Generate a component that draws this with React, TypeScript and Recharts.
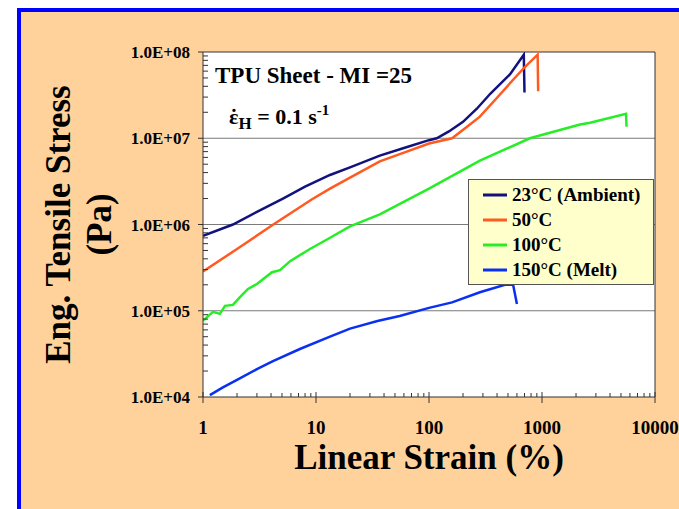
import React from 'react';
import { LineChart, Line, XAxis, YAxis, ReferenceLine, Legend } from 'recharts';

// Axis decades (log scales)
const strainTicks = [1, 10, 100, 1000, 10000];
const stressTicks = [1e4, 1e5, 1e6, 1e7, 1e8];
const minorSteps = [2, 3, 4, 5, 6, 7, 8, 9];
const gridStress = [1e5, 1e6, 1e7];

// Series
const seriesNames = ['23°C (Ambient)', '50°C', '100°C', '150°C (Melt)'];
const seriesColors = ['#12127E', '#FF5A1F', '#26EE26', '#0A30F2'];

// 23°C (Ambient)
const strain23 = [1, 1.84, 3, 5.1, 8, 13.3, 20, 36.7, 60, 100, 117, 150, 200, 265, 350, 520, 690, 700];
const stress23 = [7.4e5, 1.0e6, 1.4e6, 2.0e6, 2.75e6, 3.75e6, 4.6e6, 6.3e6, 7.7e6, 9.5e6, 1.0e7, 1.2e7, 1.55e7, 2.2e7, 3.3e7, 5.5e7, 9.3e7, 3.4e7];

// 50°C
const strain50 = [1, 2, 4.19, 9.15, 13.3, 20, 36.7, 60, 100, 160, 220, 282, 400, 550, 705, 915, 925];
const stress50 = [2.85e5, 5.2e5, 1.0e6, 1.95e6, 2.6e6, 3.5e6, 5.4e6, 6.8e6, 8.7e6, 1.0e7, 1.38e7, 1.78e7, 2.95e7, 4.7e7, 6.7e7, 9.3e7, 3.5e7];

// 100°C
const strain100 = [1, 1.226, 1.41, 1.566, 1.84, 2.125, 2.5, 3.0, 4.08, 4.8, 5.9, 8.84, 12.5, 20, 36.7, 100, 282, 780, 2170, 2660, 5540, 5600];
const stress100 = [7.7e4, 9.7e4, 9.2e4, 1.14e5, 1.17e5, 1.44e5, 1.79e5, 2.04e5, 2.8e5, 2.96e5, 3.76e5, 5.2e5, 6.7e5, 9.5e5, 1.31e6, 2.6e6, 5.5e6, 1.0e7, 1.44e7, 1.51e7, 1.92e7, 1.36e7];

// 150°C (Melt)
const strain150 = [1.15, 1.5, 2, 3, 4.16, 7.2, 13.3, 20, 35, 55, 100, 160, 282, 470, 555, 600];
const stress150 = [1.05e4, 1.29e4, 1.58e4, 2.1e4, 2.6e4, 3.6e4, 5.0e4, 6.2e4, 7.6e4, 8.7e4, 1.08e5, 1.25e5, 1.64e5, 2.0e5, 2.0e5, 1.2e5];

const zip = (xs: number[], ys: number[]) => xs.map((x, i) => ({ x, y: ys[i] }));
const seriesData = [
  zip(strain23, stress23),
  zip(strain50, stress50),
  zip(strain100, stress100),
  zip(strain150, stress150),
];

const withMinor = (majors: number[]) => {
  const out: number[] = [];
  majors.forEach((m, i) => {
    out.push(m);
    if (i < majors.length - 1) minorSteps.forEach((s) => out.push(m * s));
  });
  return out;
};
const xTickValues = withMinor(strainTicks);
const yTickValues = withMinor(stressTicks);

// Chart geometry
const W = 679;
const H = 509;
const MARGIN = { top: 52, right: 24, bottom: 72, left: 0 };
const Y_AXIS_W = 203;
const X_AXIS_H = 40;
const PLOT = {
  x: MARGIN.left + Y_AXIS_W,
  y: MARGIN.top,
  w: W - MARGIN.left - Y_AXIS_W - MARGIN.right,
  h: H - MARGIN.top - MARGIN.bottom - X_AXIS_H,
};

const FONT = '"Liberation Serif", "Times New Roman", serif';
const AXIS = '#333333';

const expLabel = (v: number) => {
  const e = Math.round(Math.log10(v));
  return `1.0E+${String(e).padStart(2, '0')}`;
};

const YTick = (props: any) => {
  const { x, y, payload } = props;
  const v = payload.value;
  if (!stressTicks.includes(v)) {
    return <line x1={x} x2={x + 5} y1={y} y2={y} stroke={AXIS} strokeWidth={1} />;
  }
  return (
    <g>
      <line x1={x - 5} x2={x} y1={y} y2={y} stroke={AXIS} strokeWidth={1} />
      <text x={x - 13} y={y + 6} textAnchor="end" fontFamily={FONT} fontWeight="bold" fontSize={17} fill="#000">
        {expLabel(v)}
      </text>
    </g>
  );
};

const XTick = (props: any) => {
  const { x, y, payload } = props;
  const v = payload.value;
  if (!strainTicks.includes(v)) {
    return <line x1={x} x2={x} y1={y - 4} y2={y} stroke={AXIS} strokeWidth={1} />;
  }
  return (
    <g>
      <line x1={x} x2={x} y1={y - 5} y2={y + 6} stroke={AXIS} strokeWidth={1} />
      <text x={x} y={y + 37} textAnchor="middle" fontFamily={FONT} fontWeight="bold" fontSize={19} fill="#000">
        {String(v)}
      </text>
    </g>
  );
};

const LegendBox = () => (
  <div
    style={{
      width: 184,
      height: 102,
      background: '#FFFFCC',
      border: '1px solid #555',
      boxSizing: 'content-box',
      paddingTop: 2,
    }}
  >
    {seriesNames.map((name, i) => (
      <div key={name} style={{ display: 'flex', alignItems: 'center', height: 25, marginLeft: 13 }}>
        <svg width={26} height={6} style={{ marginRight: 4 }}>
          <line x1={1} x2={25} y1={3} y2={3} stroke={seriesColors[i]} strokeWidth={3} />
        </svg>
        <span style={{ fontFamily: FONT, fontWeight: 'bold', fontSize: 19, color: '#000', lineHeight: '25px' }}>{name}</span>
      </div>
    ))}
  </div>
);

export default function App() {
  return (
    <div style={{ position: 'fixed', left: 0, top: 0, width: W, height: H, background: '#fff', overflow: 'hidden' }}>
      <div
        style={{
          position: 'absolute',
          left: 17,
          top: 8,
          width: 700,
          height: 520,
          background: '#FFD29C',
          borderTop: '4px solid #0000FF',
          borderLeft: '4px solid #0000FF',
        }}
      />
      {/* white plotting area */}
      <div
        style={{
          position: 'absolute',
          left: PLOT.x,
          top: PLOT.y,
          width: PLOT.w,
          height: PLOT.h,
          background: '#FFFFFF',
        }}
      />
      <div style={{ position: 'absolute', left: 0, top: 0 }}>
        <LineChart width={W} height={H} margin={MARGIN}>
          <XAxis
            dataKey="x"
            type="number"
            scale="log"
            domain={[1, 10000]}
            allowDataOverflow
            ticks={xTickValues}
            interval={0}
            tick={<XTick />}
            tickSize={0}
            tickMargin={0}
            tickLine={false}
            axisLine={{ stroke: AXIS }}
            height={X_AXIS_H}
          />
          <YAxis
            type="number"
            scale="log"
            domain={[1e4, 1e8]}
            allowDataOverflow
            ticks={yTickValues}
            interval={0}
            tick={<YTick />}
            tickSize={0}
            tickMargin={0}
            tickLine={false}
            axisLine={{ stroke: AXIS }}
            width={Y_AXIS_W}
          />
          {gridStress.map((v) => (
            <ReferenceLine key={v} y={v} stroke="#7A7A7A" strokeWidth={1} />
          ))}
          <ReferenceLine y={1e8} stroke={AXIS} strokeWidth={1} />
          <ReferenceLine x={1e4} stroke={AXIS} strokeWidth={1} />
          {seriesData.map((d, i) => (
            <Line
              key={seriesNames[i]}
              data={d}
              dataKey="y"
              name={seriesNames[i]}
              type="linear"
              stroke={seriesColors[i]}
              strokeWidth={2.5}
              dot={false}
              activeDot={false}
              isAnimationActive={false}
            />
          ))}
          <Legend
            layout="horizontal"
            verticalAlign="middle"
            align="center"
            wrapperStyle={{ left: 468, top: 179, width: 186, height: 105 }}
            content={() => <LegendBox />}
          />
        </LineChart>
      </div>
      <svg width={W} height={H} style={{ position: 'absolute', left: 0, top: 0, pointerEvents: 'none' }}>
        <text x={215} y={83} fontFamily={FONT} fontWeight="bold" fontSize={23} fill="#000">
          TPU Sheet - MI =25
        </text>
        <text x={234} y={124} textAnchor="middle" fontFamily={FONT} fontWeight="bold" fontSize={22} fill="#000">
          ˙
        </text>
        <text x={229} y={124} fontFamily={FONT} fontWeight="bold" fontSize={22} fill="#000">
          <tspan>ε</tspan>
          <tspan fontSize={17} dy={5}>H</tspan>
          <tspan dy={-5}> = 0.1 s</tspan>
          <tspan fontSize={15} dy={-9}>-1</tspan>
        </text>
        <text
          transform="translate(70,224.5) rotate(-90)"
          textAnchor="middle"
          fontFamily={FONT}
          fontWeight="bold"
          fontSize={35}
          fill="#000"
        >
          Eng. Tensile Stress
        </text>
        <text
          transform="translate(111,224.5) rotate(-90)"
          textAnchor="middle"
          fontFamily={FONT}
          fontWeight="bold"
          fontSize={35}
          fill="#000"
        >
          (Pa)
        </text>
        <text x={429} y={469} textAnchor="middle" fontFamily={FONT} fontWeight="bold" fontSize={35} fill="#000">
          Linear Strain (%)
        </text>
      </svg>
    </div>
  );
}
